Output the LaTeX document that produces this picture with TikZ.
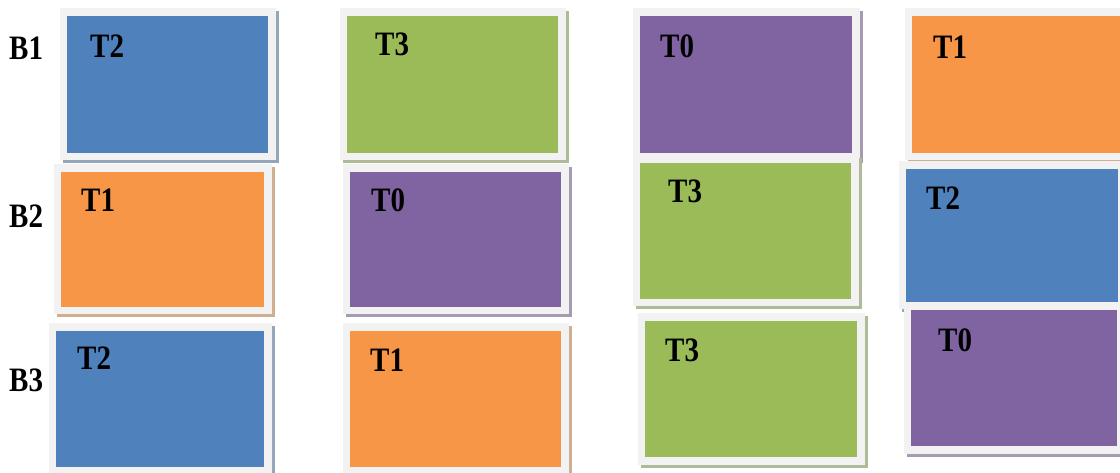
\documentclass[tikz,border=0pt]{standalone}
\usepackage{graphicx}
\usepackage{fontspec}
\setmainfont{Liberation Serif}
\usetikzlibrary{shadows}

\definecolor{taskblue}{HTML}{4F81BD}
\definecolor{taskgreen}{HTML}{9BBB59}
\definecolor{taskpurple}{HTML}{8064A2}
\definecolor{taskorange}{HTML}{F79646}
\definecolor{framegray}{HTML}{F2F2F2}

% bold label, a little taller than wide
\newcommand{\tname}[1]{\scalebox{1}[1.18]{\textbf{#1}}}

\tikzset{
    task/.style={rectangle, fill=#1, draw=framegray, line width=7.5pt, inner sep=0pt, outer sep=0pt,
        general shadow={fill=#1!50!gray!70!white, draw=#1!50!gray!70!white, line width=7.5pt,
            shadow xshift=3pt, shadow yshift=-3pt}},
    tlabel/.style={anchor=base west, inner sep=0pt, font=\fontsize{29}{29}\selectfont}
}

\begin{document}
\begin{tikzpicture}[x=1pt, y=-1pt]
    \useasboundingbox (0,0) rectangle (1120,473);

    % Row B1
    \node (b11) [task=taskblue, minimum width=208.5pt, minimum height=144.5pt] at (167.5,84.5) {};
    \node (b12) [task=taskgreen, minimum width=218.5pt, minimum height=144.5pt] at (452.5,84.5) {};
    \node (b13) [task=taskpurple, minimum width=219.5pt, minimum height=144.5pt] at (746,84.5) {};
    \node (b14) [task=taskorange, minimum width=219.5pt, minimum height=144.5pt] at (1018,84.5) {};

    % Row B2
    \node (b21) [task=taskorange, minimum width=210.5pt, minimum height=142.5pt] at (162.5,239.5) {};
    \node (b22) [task=taskpurple, minimum width=218.5pt, minimum height=142.5pt] at (455.5,239.5) {};
    \node (b23) [task=taskgreen, minimum width=218.5pt, minimum height=143.5pt] at (745.5,231) {};
    \node (b24) [task=taskblue, minimum width=219.5pt, minimum height=140.5pt] at (1012,235.5) {};

    % Row B3
    \node (b31) [task=taskblue, minimum width=215.5pt, minimum height=143.5pt] at (160,399) {};
    \node (b32) [task=taskorange, minimum width=218.5pt, minimum height=143.5pt] at (455.5,399) {};
    \node (b33) [task=taskgreen, minimum width=219.5pt, minimum height=143.5pt] at (751,389) {};
    \node (b34) [task=taskpurple, minimum width=213.5pt, minimum height=143.5pt] at (1014,378) {};

    % Task names
    \node (t11) [tlabel] at (90,58) {\tname{T2}};
    \node (t12) [tlabel] at (375,56) {\tname{T3}};
    \node (t13) [tlabel] at (660,58) {\tname{T0}};
    \node (t14) [tlabel] at (933,59) {\tname{T1}};
    \node (t21) [tlabel] at (81,212) {\tname{T1}};
    \node (t22) [tlabel] at (371,212) {\tname{T0}};
    \node (t23) [tlabel] at (668,203) {\tname{T3}};
    \node (t24) [tlabel] at (926,210) {\tname{T2}};
    \node (t31) [tlabel] at (77,370) {\tname{T2}};
    \node (t32) [tlabel] at (370,371) {\tname{T1}};
    \node (t33) [tlabel] at (665,361) {\tname{T3}};
    \node (t34) [tlabel] at (938,352) {\tname{T0}};

    % Row names
    \node (row1) [tlabel] at (9,60) {\tname{B1}};
    \node (row2) [tlabel] at (9,228) {\tname{B2}};
    \node (row3) [tlabel] at (9,391) {\tname{B3}};
\end{tikzpicture}
\end{document}
